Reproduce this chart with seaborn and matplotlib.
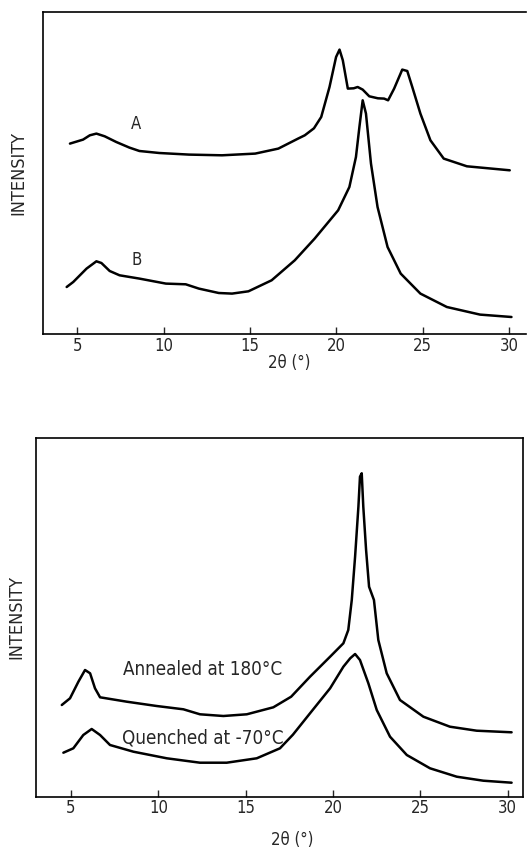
import matplotlib
matplotlib.use("Agg")
import matplotlib.pyplot as plt
from matplotlib import font_manager
import seaborn as sns
import pandas as pd

# ---- top panel data (2theta in degrees, intensity in arbitrary units) ----
a_x = [4.58, 5.34, 5.73, 6.11, 6.59, 7.26, 8.02, 8.6, 9.75, 11.47, 13.38, 15.3, 16.64,
       17.78, 18.17, 18.7, 19.12, 19.6, 19.98, 20.18, 20.37, 20.66, 21.0, 21.23, 21.52,
       21.9, 22.4, 22.76, 22.99, 23.34, 23.81, 24.1, 24.39, 24.86, 25.44, 26.21, 27.55,
       30.03]
a_y = [190.7, 194.7, 199, 200.7, 198, 192.3, 186.7, 183.3, 181.3, 179.7, 179, 180.7, 185.7,
       195.7, 199, 206, 217.3, 247.3, 277.3, 284.7, 274, 245.7, 246, 247.3, 244.7,
       238, 236, 235.7, 234, 245.7, 264.7, 263.3, 247.3, 220.7, 194, 175.7, 168,
       164]

b_x = [4.39, 4.77, 5.54, 6.11, 6.4, 6.88, 7.45, 8.6, 10.13, 11.28, 12.04, 13.19, 13.96,
       14.91, 16.25, 17.59, 18.74, 20.1, 20.75, 21.13, 21.33, 21.52, 21.71, 22.0, 22.38,
       22.96, 23.72, 24.86, 26.39, 28.31, 30.13]
b_y = [47.3, 52.3, 65.7, 73, 71.3, 63.3, 59, 55.7, 50.7, 50, 45.7, 41.3, 40.7,
       43, 54, 74, 95.7, 124, 147.3, 177.3, 207.3, 234, 220.7, 170.7, 127.3,
       87.3, 60.7, 40.7, 27.3, 19.7, 17.3]

# ---- bottom panel data ----
ann_x = [4.47, 4.94, 5.42, 5.8, 6.09, 6.37, 6.66, 8.19, 9.9, 11.43, 12.38, 13.72, 15.06,
         16.58, 17.6, 18.68, 19.83, 20.59, 20.87, 21.07, 21.26, 21.45, 21.54, 21.64, 21.73,
         21.89, 22.06, 22.34, 22.59, 23.07, 23.83, 25.17, 26.69, 28.22, 30.22]
ann_y = [91.7, 98.4, 115, 126.7, 123.4, 108.4, 99.4, 95, 90.7, 87.4, 82.4, 80.7, 82.4,
         89.4, 100, 120, 140, 153.4, 166.7, 196.7, 240, 290, 320, 323.4, 290,
         246.7, 210, 196.7, 156.7, 123.4, 96.7, 80, 70, 66, 64.4]

que_x = [4.56, 5.13, 5.7, 6.18, 6.66, 7.23, 8.57, 10.48, 12.38, 13.91, 15.63, 16.96, 17.7,
         18.68, 19.83, 20.59, 20.98, 21.26, 21.54, 22.02, 22.5, 23.26, 24.22, 25.55, 27.08,
         28.6, 30.22]
que_y = [44, 48.4, 61.7, 67.7, 61.7, 51.7, 45, 38.4, 34, 34, 38.4, 48.4, 62,
         83.4, 108.4, 130, 138.4, 142.7, 136.7, 113.4, 86.7, 60, 41.7, 28.4, 20,
         16, 14]

xticks = [5, 10, 15, 20, 25, 30]
xlabel = "2θ (°)"
ylabel = "INTENSITY"
top_labels = ["A", "B"]
bottom_labels = ["Annealed at 180°C", "Quenched at -70°C"]

sns.set_style("ticks")
plt.rcParams['font.family'] = ['DejaVu Sans']

# use a condensed face if available (the original lettering is narrow)
cond = font_manager.FontProperties(family="DejaVu Sans", stretch="condensed")
has_cond = "ondensed" in font_manager.findfont(cond, fallback_to_default=True)
stretch = "condensed" if has_cond else "normal"
k = 1.0 if has_cond else 0.9

fig = plt.figure(figsize=(5.27, 8.5), dpi=100)
ax1 = fig.add_axes([43/527, 1-334.3/850, (526.5-43)/527, (334.3-11.7)/850])
ax2 = fig.add_axes([36.3/527, 1-796.7/850, (523.3-36.3)/527, (796.7-438)/850])

top = pd.concat([
    pd.DataFrame({"x": a_x, "y": a_y, "s": "A"}),
    pd.DataFrame({"x": b_x, "y": b_y, "s": "B"}),
])
bot = pd.concat([
    pd.DataFrame({"x": ann_x, "y": ann_y, "s": "Annealed"}),
    pd.DataFrame({"x": que_x, "y": que_y, "s": "Quenched"}),
])

for ax, df, lp in [(ax1, top, 11), (ax2, bot, 8)]:
    sns.lineplot(data=df, x="x", y="y", units="s", estimator=None, sort=False,
                 color="black", linewidth=1.8, ax=ax, legend=False)
    ax.set_xticks(xticks)
    ax.set_yticks([])
    ax.tick_params(axis="x", direction="in", length=5, width=1, pad=2)
    for lab in ax.get_xticklabels():
        lab.set_fontsize(12 * k)
        lab.set_fontstretch(stretch)
    ax.set_xlabel(xlabel, fontsize=12 * k, fontstretch=stretch)
    ax.set_ylabel(ylabel, fontsize=13 * k, fontstretch=stretch, labelpad=lp)
    for sp in ax.spines.values():
        sp.set_linewidth(1.2)
        sp.set_color("black")

ax1.set_xlim(3.02, 31.0)
ax1.set_ylim(0, 322.6)
ax1.spines["right"].set_visible(False)
ax1.xaxis.set_label_coords(0.51, -0.062)
ax1.text(8.41, 210.7, top_labels[0], fontsize=12 * k, fontstretch=stretch, ha="center", va="center")
ax1.text(8.41, 74.7, top_labels[1], fontsize=12 * k, fontstretch=stretch, ha="center", va="center")

ax2.set_xlim(3.01, 30.89)
ax2.set_ylim(0, 358.7)
ax2.xaxis.set_label_coords(0.525, -0.095)
ax2.text(7.96, 127.4, bottom_labels[0], fontsize=13.5 * k, fontstretch=stretch, ha="left", va="center")
ax2.text(7.9, 58.4, bottom_labels[1], fontsize=13.5 * k, fontstretch=stretch, ha="left", va="center")

fig.savefig("out.png", dpi=100)
